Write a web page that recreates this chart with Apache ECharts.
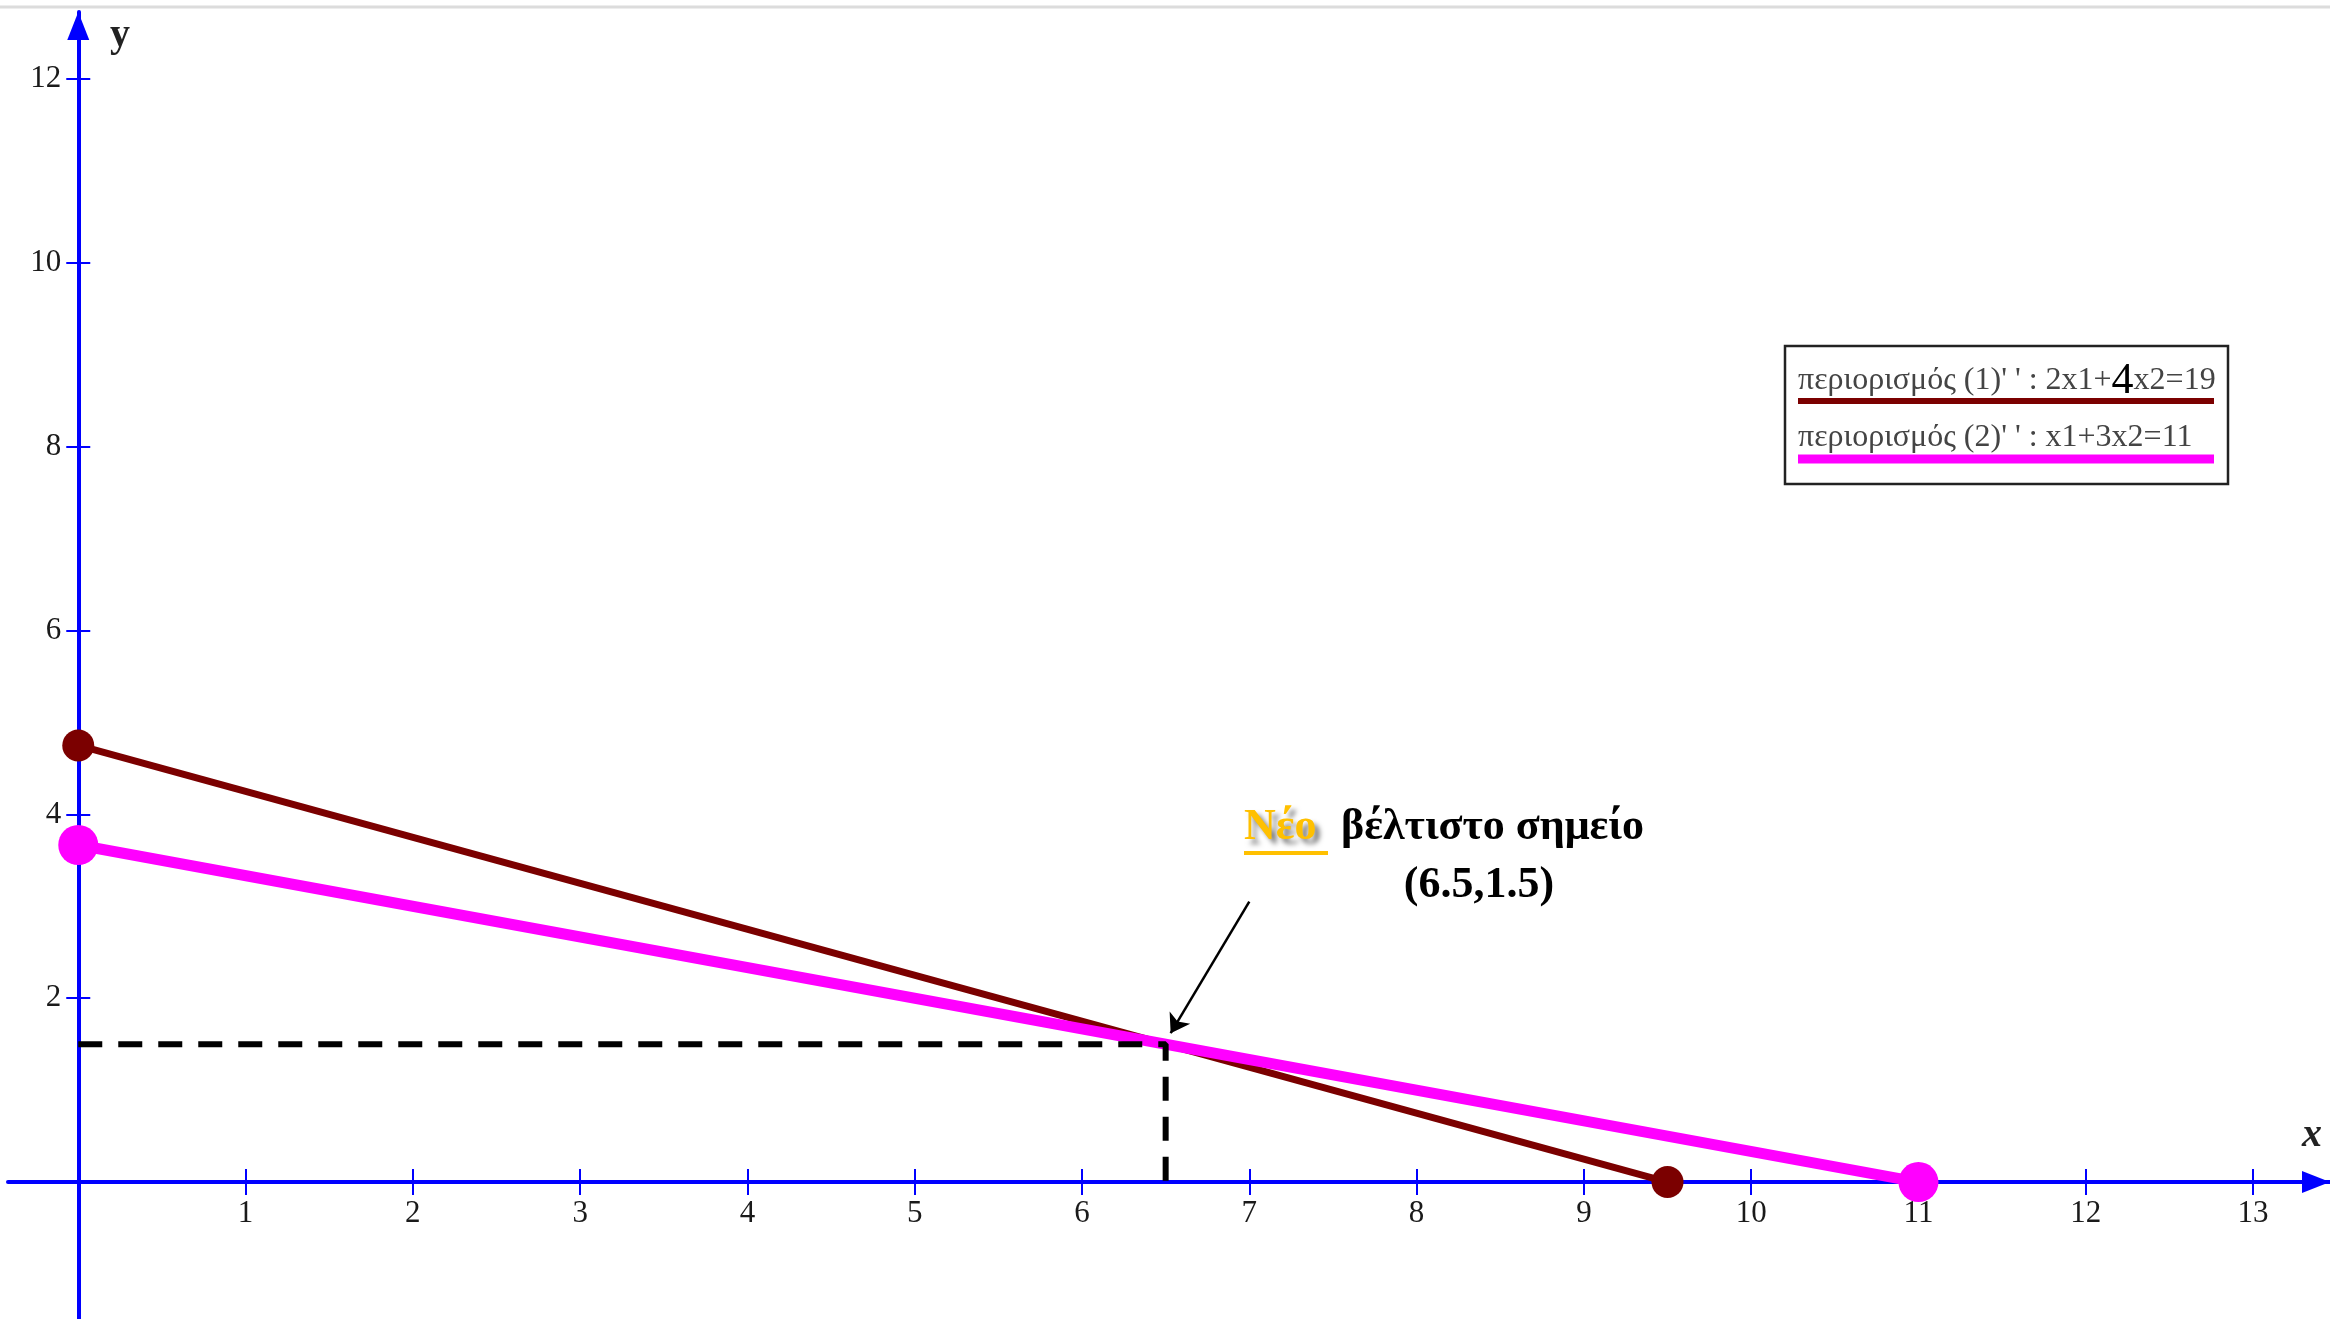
<!DOCTYPE html>
<html><head><meta charset="utf-8">
<script src="https://cdn.jsdelivr.net/npm/echarts@6/dist/echarts.min.js"></script>
<style>html,body{margin:0;padding:0;background:#fff}#c{width:2330px;height:1319px}</style>
</head><body><div id="c"></div>
<script>
// ---- data ----
const xTicks = [1, 2, 3, 4, 5, 6, 7, 8, 9, 10, 11, 12, 13];
const yTicks = [2, 4, 6, 8, 10, 12];
const c1X = [0, 9.5];      // 2x1+4x2=19
const c1Y = [4.75, 0];
const c2X = [0, 11];       // x1+3x2=11
const c2Y = [3.667, 0];
const optX = 6.5, optY = 1.5;
const arrowFrom = [7.0, 3.05];
const arrowTo = [6.53, 1.62];
const legend1 = "περιορισμός (1)' ' : 2x1+";
const legend1b = "4";
const legend1c = "x2=19";
const legend2 = "περιορισμός (2)' ' : x1+3x2=11";
const noteNew = "Νέο";
const noteRest = "βέλτιστο σημείο";
const notePoint = "(6.5,1.5)";

const BLUE = '#0000ff', BROWN = '#7b0000', MAG = '#ff00ff';
const FONT = '"Liberation Serif", "DejaVu Serif", serif';

const zip = (xs, ys) => xs.map((x, i) => [x, ys[i]]);

const chart = echarts.init(document.getElementById('c'));
const G = { left: 8, top: 12, width: 2322, height: 1307 };
const xRange = { min: -0.42, max: 13.46 };
const yRange = { min: -1.49, max: 12.73 };
// pixel position of the zero lines inside the grid (axes cross at the origin)
const zeroX = G.left + (0 - xRange.min) / (xRange.max - xRange.min) * G.width;
const zeroY = G.top + (yRange.max - 0) / (yRange.max - yRange.min) * G.height;
const offBottom = -((G.top + G.height) - zeroY);
const offTop = -(zeroY - G.top);
const offLeft = -(zeroX - G.left);
const offRight = -((G.left + G.width) - zeroX);

const tickStyle = { color: BLUE, width: 2 };
const labelStyle = { fontFamily: FONT, fontSize: 31, color: '#1a1a1a' };

const option = {
  animation: false,
  backgroundColor: '#fff',
  grid: Object.assign({ outerBoundsMode: 'none', containLabel: false }, G),
  xAxis: [
    { type: 'value', min: xRange.min, max: xRange.max, position: 'bottom', offset: offBottom,
      axisLine: { show: true, onZero: false, lineStyle: { color: BLUE, width: 4 },
        symbol: ['none', 'triangle'], symbolSize: [22, 28], symbolOffset: [0, -14] },
      axisTick: { show: true, length: 13, customValues: xTicks, lineStyle: tickStyle },
      axisLabel: Object.assign({ show: true, customValues: xTicks, margin: 16 }, labelStyle),
      splitLine: { show: false } },
    { type: 'value', min: xRange.min, max: xRange.max, position: 'top', offset: offTop,
      axisLine: { show: false, onZero: false },
      axisTick: { show: true, length: 13, customValues: xTicks, lineStyle: tickStyle },
      axisLabel: { show: false }, splitLine: { show: false } }
  ],
  yAxis: [
    { type: 'value', min: yRange.min, max: yRange.max, position: 'left', offset: offLeft,
      axisLine: { show: true, onZero: false, lineStyle: { color: BLUE, width: 4 },
        symbol: ['none', 'triangle'], symbolSize: [22, 28], symbolOffset: [0, -14] },
      axisTick: { show: true, length: 12, customValues: yTicks, lineStyle: tickStyle },
      axisLabel: Object.assign({ show: true, customValues: yTicks, margin: 17 }, labelStyle),
      splitLine: { show: false } },
    { type: 'value', min: yRange.min, max: yRange.max, position: 'right', offset: offRight,
      axisLine: { show: false, onZero: false },
      axisTick: { show: true, length: 12, customValues: yTicks, lineStyle: tickStyle },
      axisLabel: { show: false }, splitLine: { show: false } }
  ],
  series: [
    { type: 'line', name: 'c1', data: zip(c1X, c1Y), z: 3,
      symbol: 'circle', symbolSize: 32, showAllSymbol: true,
      lineStyle: { color: BROWN, width: 7 }, itemStyle: { color: BROWN } },
    { type: 'line', name: 'c2', data: zip(c2X, c2Y), z: 4,
      symbol: 'circle', symbolSize: 40, showAllSymbol: true,
      lineStyle: { color: MAG, width: 11 }, itemStyle: { color: MAG } },
    { type: 'line', name: 'opt', data: [[0, optY], [optX, optY], [optX, 0]], z: 5,
      symbol: 'none', lineStyle: { color: '#000', width: 6, type: [24, 16] } },
    { type: 'lines', coordinateSystem: 'cartesian2d', z: 6,
      symbol: ['none', 'arrow'], symbolSize: 18,
      lineStyle: { color: '#000', width: 2.5, opacity: 1 },
      data: [{ coords: [arrowFrom, arrowTo] }] }
  ],
  graphic: [
    { type: 'line', shape: { x1: 0, y1: 7, x2: 2330, y2: 7 }, style: { stroke: '#dcdcdc', lineWidth: 3 }, silent: true },
    // axis names
    { type: 'text', x: 110, y: 16, style: { text: 'y', font: 'bold 40px ' + FONT, fill: '#222' } },
    { type: 'text', x: 2302, y: 1116, style: { text: 'x', font: 'bold italic 40px ' + FONT, fill: '#222' } },
    // legend box
    { type: 'rect', shape: { x: 1785, y: 346, width: 443, height: 138 },
      style: { fill: '#fff', stroke: '#222', lineWidth: 2.5 }, z: 10 },
    { type: 'text', x: 1798, y: 381, z: 11,
      style: { text: '{t|' + legend1 + '}{b|' + legend1b + '}{t|' + legend1c + '}', verticalAlign: 'middle',
        rich: { t: { font: '32px ' + FONT, fontFamily: FONT, fontSize: 32, fill: '#444' },
                b: { font: '44px ' + FONT, fontFamily: FONT, fontSize: 44, fill: '#000' } } } },
    { type: 'line', z: 11, shape: { x1: 1798, y1: 401, x2: 2214, y2: 401 }, style: { stroke: BROWN, lineWidth: 6 } },
    { type: 'text', x: 1798, y: 438, z: 11,
      style: { text: legend2, font: '32px ' + FONT, fill: '#444', verticalAlign: 'middle' } },
    { type: 'line', z: 11, shape: { x1: 1798, y1: 459, x2: 2214, y2: 459 }, style: { stroke: MAG, lineWidth: 9 } },
    // annotation
    { type: 'text', x: 1244, y: 828, z: 11,
      style: { text: noteNew, font: 'bold 44px ' + FONT, fill: '#ffc000', verticalAlign: 'middle',
        textShadowColor: 'rgba(0,0,0,0.5)', textShadowOffsetX: 5, textShadowOffsetY: 5, textShadowBlur: 5 } },
    { type: 'rect', z: 11, shape: { x: 1244, y: 851, width: 84, height: 4 }, style: { fill: '#ffc000' } },
    { type: 'text', x: 1341, y: 828, z: 11,
      style: { text: noteRest, font: 'bold 44px ' + FONT, fill: '#000', verticalAlign: 'middle' } },
    { type: 'text', x: 1479, y: 886, z: 11,
      style: { text: notePoint, font: 'bold 44px ' + FONT, fill: '#000', align: 'center', verticalAlign: 'middle' } }
  ]
};
chart.setOption(option);
</script>
</body></html>
